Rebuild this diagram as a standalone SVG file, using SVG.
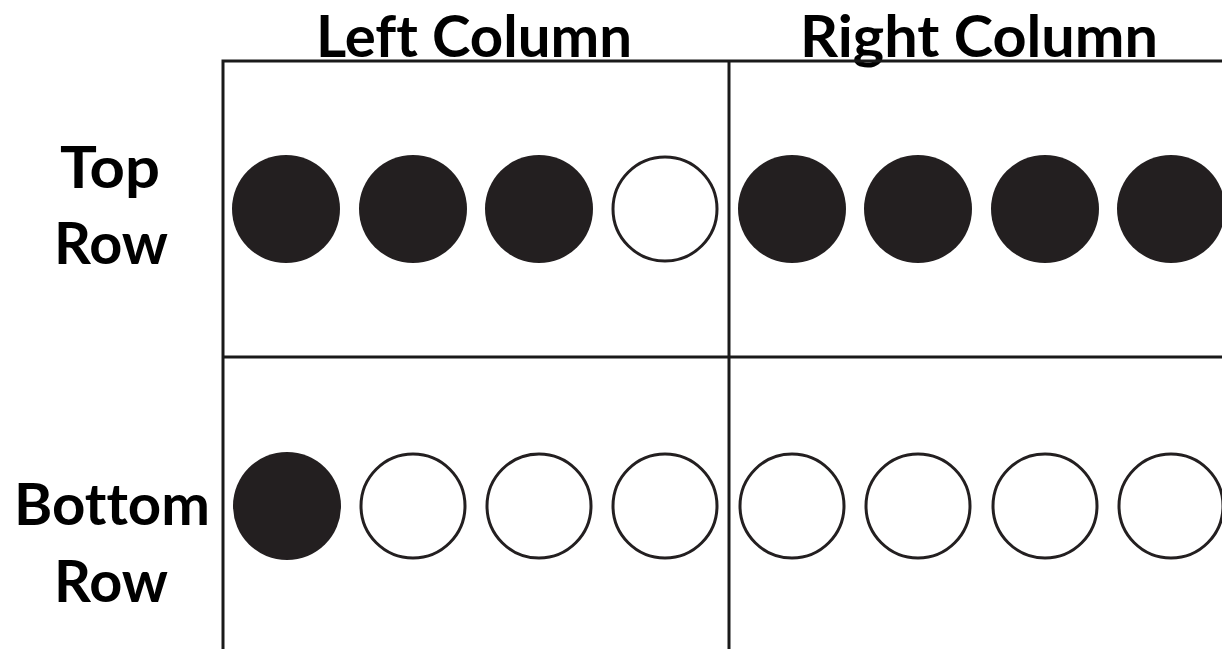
<svg xmlns="http://www.w3.org/2000/svg" width="1222" height="649" viewBox="0 0 1222 649">
<style>
.lbl{font-family:Lato,"Open Sans","Liberation Sans",sans-serif;font-weight:700;font-size:57px;fill:#000;font-variant-ligatures:none;font-feature-settings:"liga" 0}
.grid{stroke:#1a1a1a;stroke-width:3;fill:none}
.full{fill:#231f20}
.empty{fill:#fff;stroke:#231f20;stroke-width:3}
</style>
<rect width="1222" height="649" fill="#fff"/>
<g id="labels">
<text class="lbl" x="316" y="57" textLength="316" lengthAdjust="spacingAndGlyphs">Left Column</text>
<text class="lbl" x="800" y="57" textLength="358" lengthAdjust="spacingAndGlyphs">Right Column</text>
<text class="lbl" x="60" y="188" textLength="100" lengthAdjust="spacingAndGlyphs">Top</text>
<text class="lbl" x="54" y="264" textLength="114" lengthAdjust="spacingAndGlyphs">Row</text>
<text class="lbl" x="14" y="525" textLength="196" lengthAdjust="spacingAndGlyphs">Bottom</text>
<text class="lbl" x="54" y="602" textLength="114" lengthAdjust="spacingAndGlyphs">Row</text>
</g>
<g id="grid">
<path class="grid" d="M223 649V61H1222M729 61V649M223 357H1222"/>
</g>
<g id="top-left">
<circle class="full" cx="286" cy="209" r="54"/>
<circle class="full" cx="413" cy="209" r="54"/>
<circle class="full" cx="539" cy="209" r="54"/>
<circle class="empty" cx="665" cy="209" r="52"/>
</g>
<g id="top-right">
<circle class="full" cx="792" cy="209" r="54"/>
<circle class="full" cx="918" cy="209" r="54"/>
<circle class="full" cx="1045" cy="209" r="54"/>
<circle class="full" cx="1171" cy="209" r="54"/>
</g>
<g id="bottom-left">
<circle class="full" cx="287" cy="506" r="54"/>
<circle class="empty" cx="413" cy="506" r="52"/>
<circle class="empty" cx="539" cy="506" r="52"/>
<circle class="empty" cx="665" cy="506" r="52"/>
</g>
<g id="bottom-right">
<circle class="empty" cx="792" cy="506" r="52"/>
<circle class="empty" cx="918" cy="506" r="52"/>
<circle class="empty" cx="1045" cy="506" r="52"/>
<circle class="empty" cx="1171" cy="506" r="52"/>
</g>
</svg>
